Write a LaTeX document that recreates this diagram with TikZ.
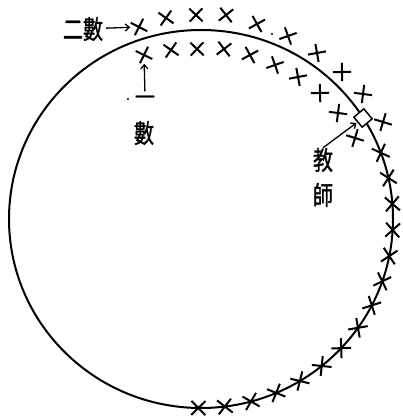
\documentclass[tikz,border=0pt]{standalone}
\usepackage{fontspec}
\usepackage{graphicx}
\newfontfamily\cjk[FakeBold=1.5]{Noto Sans CJK TC}
\usetikzlibrary{shapes.misc,arrows.meta}
\begin{document}
\begin{tikzpicture}[x=1pt,y=-1pt,
  xmark/.style={cross out,draw,line width=2pt,minimum size=11pt,inner sep=0pt},
  amark/.style={cross out,draw,line width=2pt,minimum size=12pt,inner sep=0pt},
  lbl/.style={font=\cjk\fontsize{20}{20}\selectfont,inner sep=0pt},
  arr/.style={-{Straight Barb[length=4pt,width=7pt]},line width=1.3pt}]
\useasboundingbox (0,0) rectangle (402,419);
\coordinate (O) at (201,219);
\draw[line width=2pt] (O) ellipse [x radius=192, y radius=189];
% outer row
\foreach \px/\py [count=\i] in {139/27,166/18,196/15,226/15,257/24,288/36,317/53,342/72,363/94,383/122}{
  \pgfmathsetmacro\r{atan2(219-\py,\px-201)-90}
  \node[xmark,rotate=\r] (o\i) at (\px,\py) {};
}
% inner row
\foreach \px/\py [count=\i] in {144/55,171/50,197/49,224/49,250/55,275/65,298/77,320/93,338/113,355/138}{
  \pgfmathsetmacro\r{atan2(219-\py,\px-201)-90}
  \node[xmark,rotate=\r] (i\i) at (\px,\py) {};
}
% asterisks on the circle
\foreach \k in {0,...,14}{
  \pgfmathsetmacro\a{20.5-7.95*\k}
  \node[amark,rotate=\a] (s\k) at ({201+192*cos(\a)},{219-189*sin(\a)}) {};
}
% teacher box
\node[draw,fill=white,line width=1.5pt,minimum size=13pt,inner sep=0pt,rotate=40] (box) at (363,118) {};
% specks
\fill (272,34) circle (1.2);
\fill (128,99) circle (1.2);
% labels
\node[lbl] (er) at (83,29) {\scalebox{1}[1.3]{二數}};
\node[lbl] (yi) at (145,100) {一};
\node[lbl] (shu) at (144,133) {\scalebox{1}[1.3]{數}};
\node[lbl] (jiao) at (323,160) {\scalebox{1}[1.3]{教}};
\node[lbl] (shi) at (323,195) {\scalebox{1}[1.3]{師}};
% arrows
\draw[arr,shorten <=3pt,shorten >=2pt] (er) -- (o1);
\draw[arr,shorten <=4pt,shorten >=2pt] (yi.north) -- (i1);
\draw[arr,shorten >=1pt] (jiao.north) -- (box);
\end{tikzpicture}
\end{document}
